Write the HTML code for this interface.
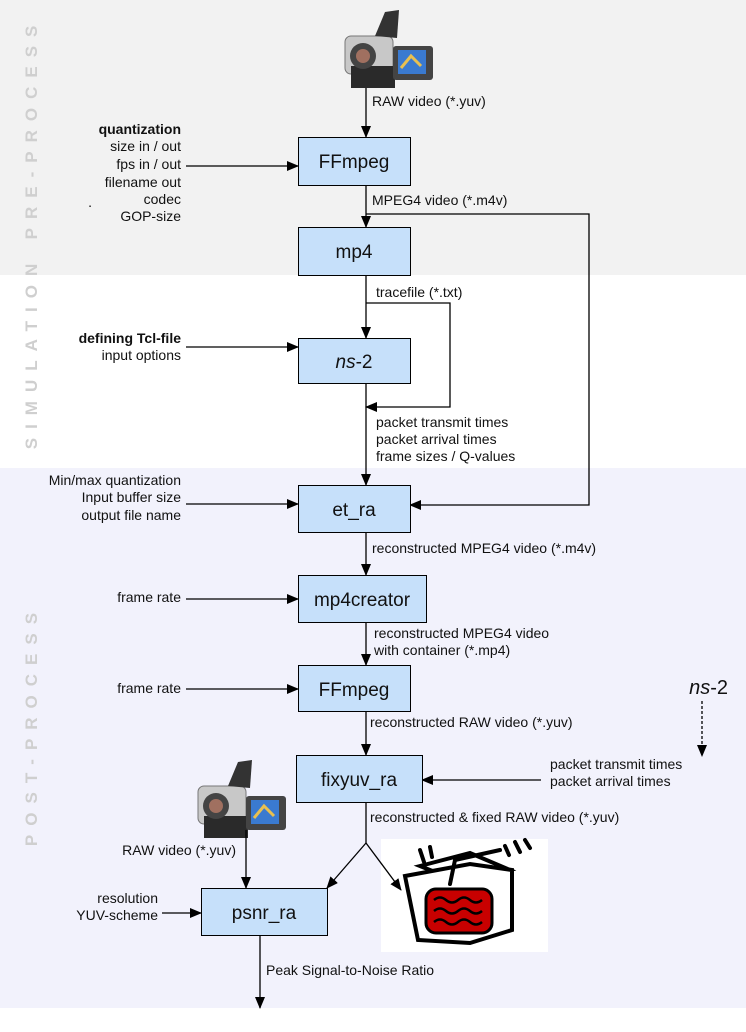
<!DOCTYPE html>
<html><head><meta charset="utf-8"><style>
html,body{margin:0;padding:0;background:#fff}
svg{display:block}
text{font-family:"Liberation Sans",sans-serif;fill:#111}
.s{font-size:14px}
.b{font-size:19px;text-anchor:middle}
.v{font-size:17px;font-weight:bold;fill:#cfcfcf;letter-spacing:9px;text-anchor:middle}
</style></head><body>
<svg width="746" height="1032" viewBox="0 0 746 1032" xmlns="http://www.w3.org/2000/svg">
<defs>
<marker id="a" markerWidth="12" markerHeight="10" refX="11" refY="5" orient="auto" markerUnits="userSpaceOnUse"><path d="M0,0 L12,5 L0,10 Z" fill="#000"/></marker>
<g id="cam">
<rect x="0" y="28" width="48" height="38" rx="6" fill="#c8c8c8" stroke="#777"/>
<path d="M30,28 L40,4 L54,2 L52,30 Z" fill="#333"/>
<rect x="6" y="58" width="44" height="22" fill="#2a2a2a"/>
<circle cx="18" cy="48" r="13" fill="#444"/><circle cx="18" cy="48" r="7" fill="#a07060"/>
<rect x="48" y="38" width="40" height="34" rx="3" fill="#444"/>
<rect x="53" y="42" width="28" height="24" fill="#3a7ad0"/>
<path d="M56,60 L66,48 L76,58" stroke="#e8c050" stroke-width="3" fill="none"/>
</g>
</defs>
<rect x="0" y="0" width="746" height="275" fill="#f2f2f2"/>
<rect x="0" y="468" width="746" height="540" fill="#f2f2fc"/>
<text class="v" transform="translate(37,128) rotate(-90)">PRE-PROCESS</text>
<text class="v" transform="translate(37,352) rotate(-90)">SIMULATION</text>
<text class="v" transform="translate(37,725) rotate(-90)">POST-PROCESS</text>

<use href="#cam" x="345" y="8"/>
<use href="#cam" x="198" y="758"/>

<rect x="381" y="839" width="167" height="113" fill="#fff"/>
<g stroke="#000" stroke-width="4" fill="none" stroke-linecap="round">
<path d="M420,866 L470,853 L510,870 L460,882 Z" fill="#fff"/>
<path d="M405,876 L470,864 L512,870 L512,930 L470,943 L418,940 Z" fill="#fff"/>
<path d="M450,884 L455,860 M455,860 L500,850"/>
<path d="M420,850 L424,862 M430,847 L432,857 M505,846 L509,855 M515,842 L520,852 M525,840 L530,848"/>
</g>
<rect x="426" y="889" width="66" height="44" rx="10" fill="#c80000" stroke="#000" stroke-width="3"/>
<g stroke="#000" stroke-width="2.5" fill="none">
<path d="M434,900 q6,-5 12,0 t12,0 t12,0 t12,0"/>
<path d="M434,911 q6,-5 12,0 t12,0 t12,0 t12,0"/>
<path d="M434,922 q6,-5 12,0 t12,0 t12,0 t12,0"/>
</g>

<g stroke="#000" stroke-width="1.3" fill="none">
<line x1="366" y1="88" x2="366" y2="137" marker-end="url(#a)"/>
<line x1="366" y1="185" x2="366" y2="227" marker-end="url(#a)"/>
<polyline points="366,214 589,214 589,505 410,505" marker-end="url(#a)"/>
<line x1="366" y1="275" x2="366" y2="338" marker-end="url(#a)"/>
<polyline points="366,303 450,303 450,407 366,407" marker-end="url(#a)"/>
<line x1="366" y1="383" x2="366" y2="485" marker-end="url(#a)"/>
<line x1="366" y1="532" x2="366" y2="575" marker-end="url(#a)"/>
<line x1="366" y1="622" x2="366" y2="665" marker-end="url(#a)"/>
<line x1="366" y1="711" x2="366" y2="755" marker-end="url(#a)"/>
<line x1="366" y1="802" x2="366" y2="843"/>
<line x1="366" y1="843" x2="327" y2="888" marker-end="url(#a)"/>
<line x1="366" y1="843" x2="401" y2="890" marker-end="url(#a)"/>
<line x1="246" y1="830" x2="246" y2="888" marker-end="url(#a)"/>
<line x1="260" y1="935" x2="260" y2="1008" marker-end="url(#a)"/>
<line x1="186" y1="166" x2="298" y2="166" marker-end="url(#a)"/>
<line x1="186" y1="347" x2="298" y2="347" marker-end="url(#a)"/>
<line x1="186" y1="504" x2="298" y2="504" marker-end="url(#a)"/>
<line x1="186" y1="599" x2="298" y2="599" marker-end="url(#a)"/>
<line x1="186" y1="689" x2="298" y2="689" marker-end="url(#a)"/>
<line x1="162" y1="913" x2="201" y2="913" marker-end="url(#a)"/>
<line x1="541" y1="780" x2="422" y2="780" marker-end="url(#a)"/>
<line x1="702" y1="701" x2="702" y2="756" stroke-dasharray="3,2" marker-end="url(#a)"/>
</g>

<g fill="#c6e0fa" stroke="#000" stroke-width="1">
<rect x="298.5" y="137.5" width="112" height="48"/>
<rect x="298.5" y="227.5" width="112" height="48"/>
<rect x="298.5" y="338.5" width="112" height="45"/>
<rect x="298.5" y="485.5" width="112" height="47"/>
<rect x="298.5" y="575.5" width="128" height="47"/>
<rect x="298.5" y="665.5" width="112" height="46"/>
<rect x="296.5" y="755.5" width="126" height="47"/>
<rect x="201.5" y="888.5" width="126" height="47"/>
</g>
<text class="b" x="354" y="168">FFmpeg</text>
<text class="b" x="354" y="258">mp4</text>
<text class="b" x="354" y="368"><tspan font-style="italic">ns</tspan>-2</text>
<text class="b" x="354" y="516">et_ra</text>
<text class="b" x="362" y="606" font-size="18">mp4creator</text>
<text class="b" x="354" y="696">FFmpeg</text>
<text class="b" x="359" y="786">fixyuv_ra</text>
<text class="b" x="264" y="919">psnr_ra</text>

<g class="s">
<text x="372" y="106">RAW video (*.yuv)</text>
<text x="372" y="205">MPEG4 video (*.m4v)</text>
<text x="376" y="297">tracefile (*.txt)</text>
<text x="376" y="427">packet transmit times</text>
<text x="376" y="444">packet arrival times</text>
<text x="376" y="461">frame sizes / Q-values</text>
<text x="372" y="553">reconstructed MPEG4 video (*.m4v)</text>
<text x="374" y="638">reconstructed MPEG4 video</text>
<text x="374" y="655">with container (*.mp4)</text>
<text x="370" y="727">reconstructed RAW video (*.yuv)</text>
<text x="370" y="822">reconstructed &amp; fixed RAW video (*.yuv)</text>
<text x="266" y="975">Peak Signal-to-Noise Ratio</text>
<text x="550" y="769">packet transmit times</text>
<text x="550" y="786">packet arrival times</text>
<text x="728" y="694" font-size="20" text-anchor="end"><tspan font-style="italic">ns</tspan>-2</text>
</g>
<g class="s" text-anchor="end">
<text x="181" y="134" font-weight="bold">quantization</text>
<text x="181" y="151">size in / out</text>
<text x="181" y="169">fps in / out</text>
<text x="181" y="187">filename out</text>
<text x="181" y="204">codec</text>
<text x="181" y="221">GOP-size</text>
<text x="92" y="207">.</text>
<text x="181" y="343" font-weight="bold">defining Tcl-file</text>
<text x="181" y="360">input options</text>
<text x="181" y="485">Min/max quantization</text>
<text x="181" y="502">Input buffer size</text>
<text x="181" y="520">output file name</text>
<text x="181" y="602">frame rate</text>
<text x="181" y="693">frame rate</text>
<text x="236" y="855">RAW video (*.yuv)</text>
<text x="158" y="903">resolution</text>
<text x="158" y="920">YUV-scheme</text>
</g>
</svg>
</body></html>
